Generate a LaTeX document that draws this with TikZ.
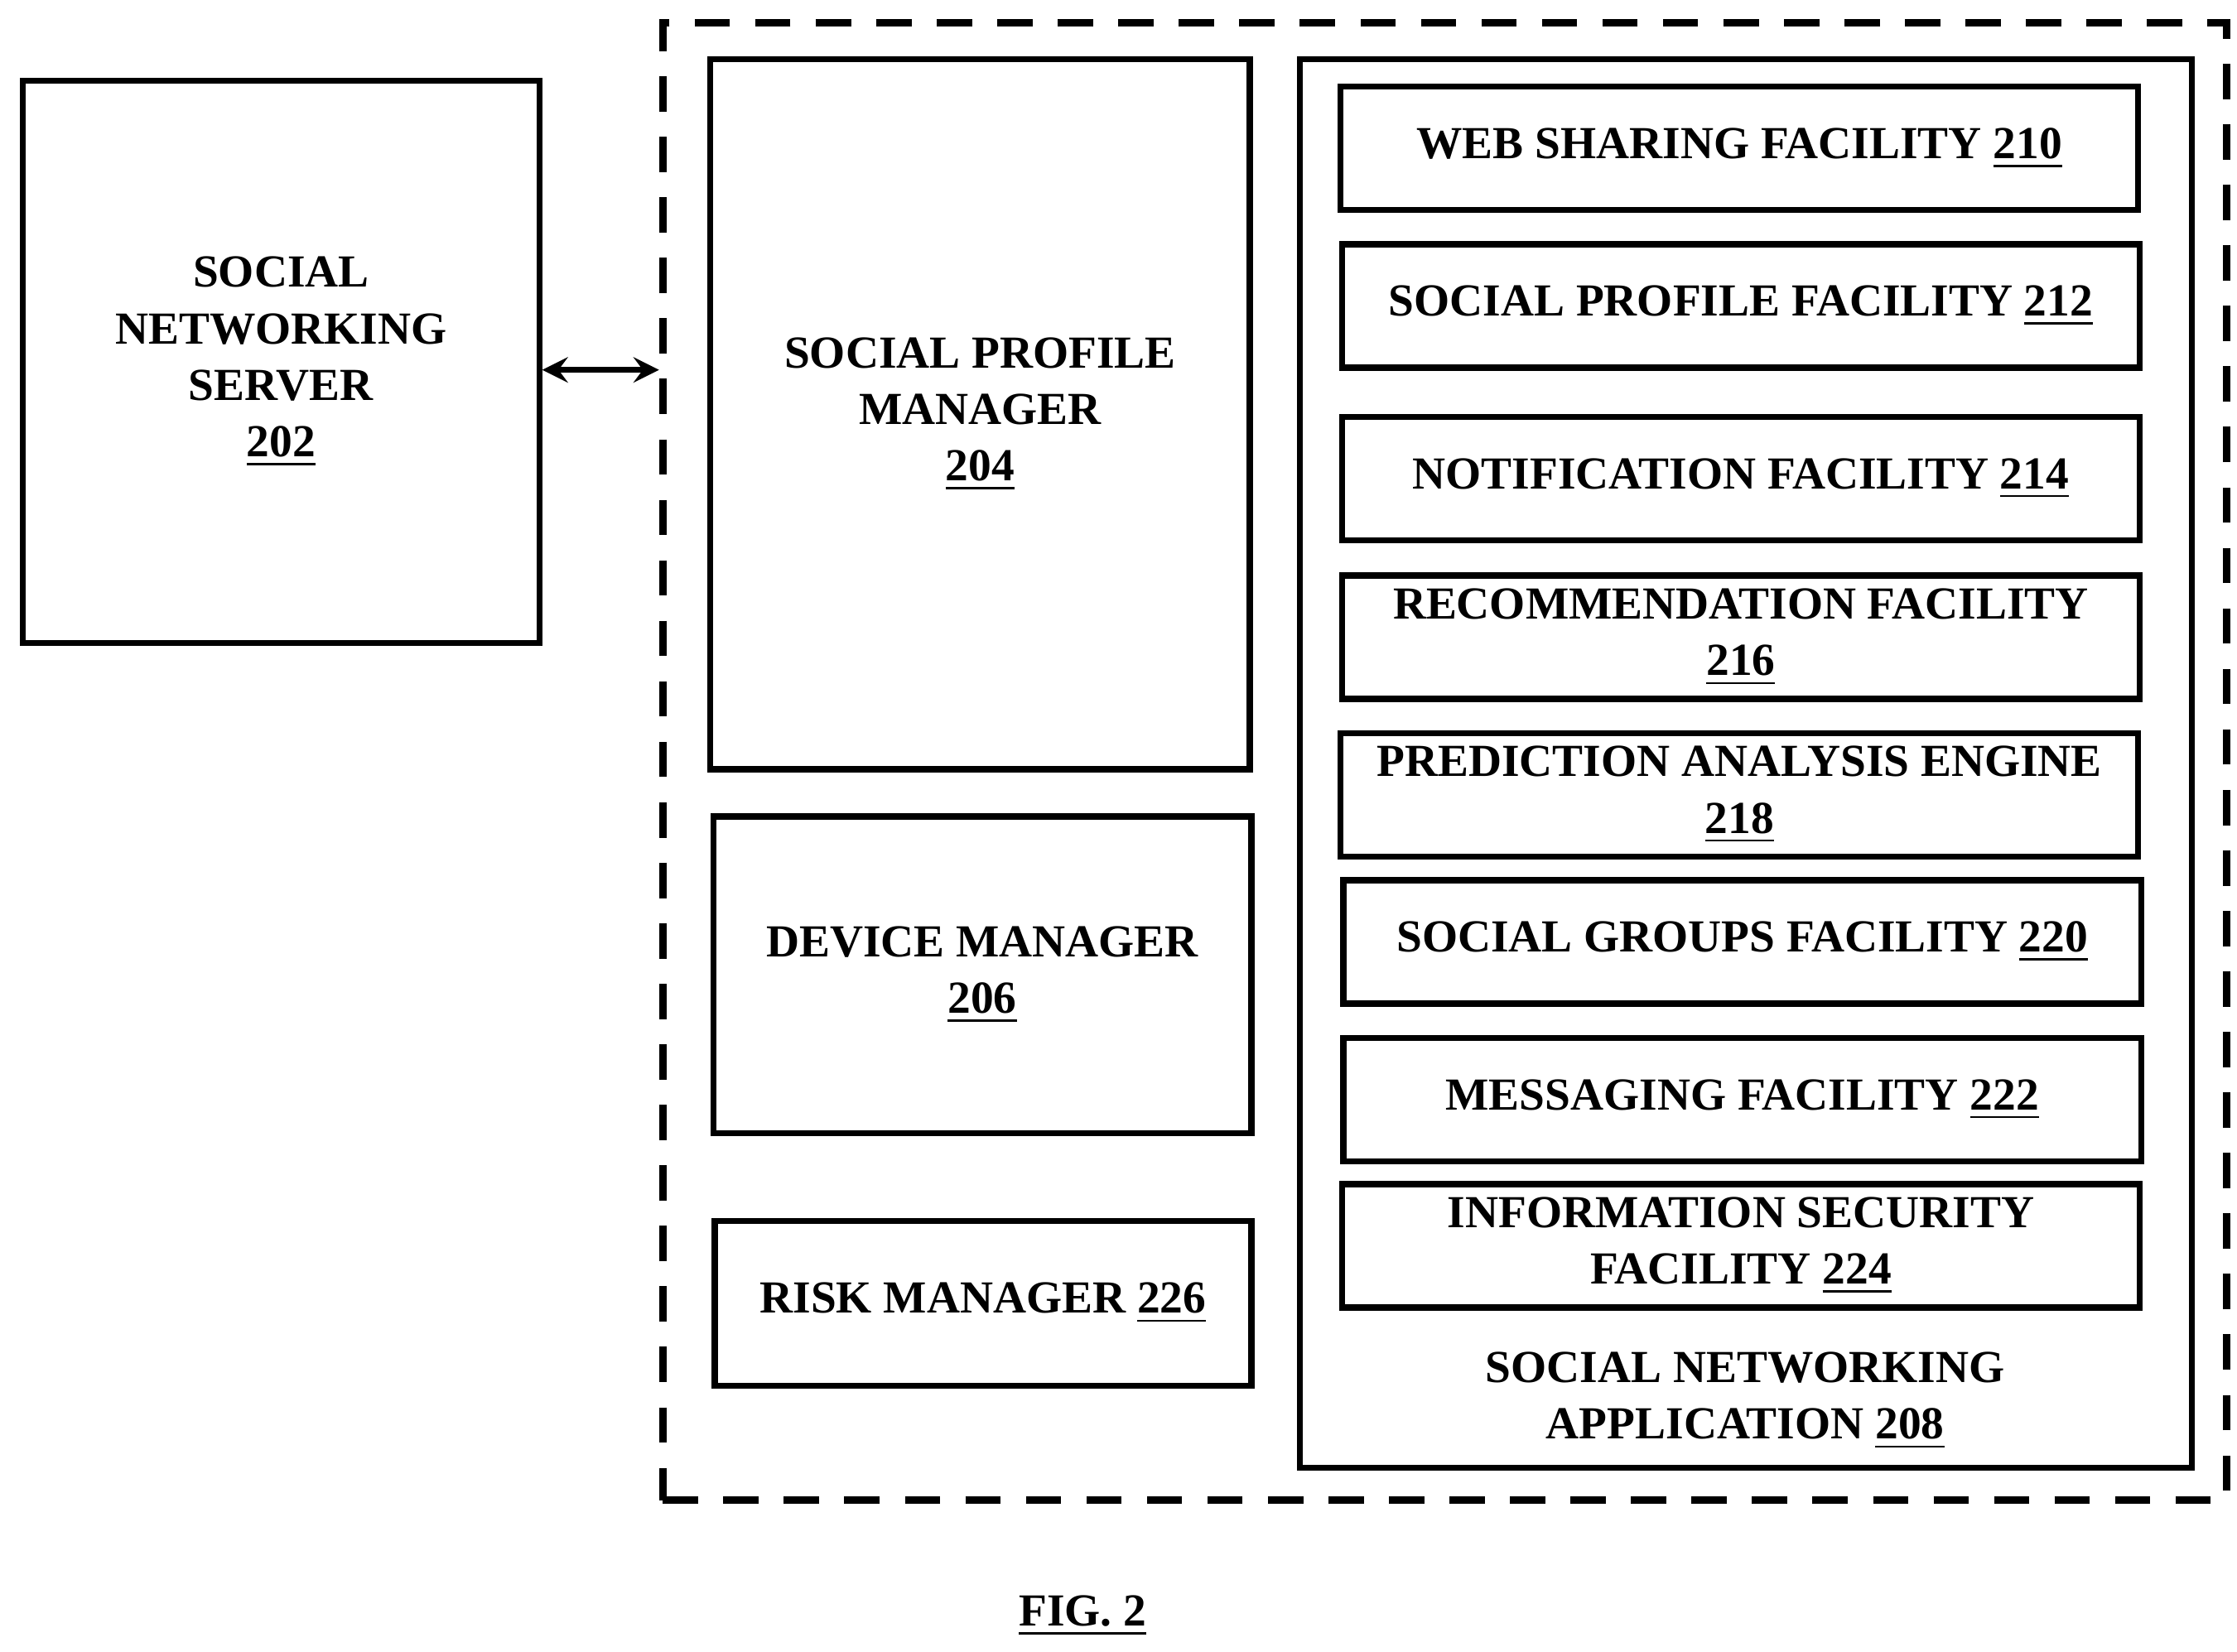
\documentclass[tikz,border=0pt]{standalone}
\usepackage{fontspec}
\setmainfont{Liberation Serif}
\usetikzlibrary{positioning}
\newcommand{\num}[1]{\underline{#1}}
\tikzset{
  blk/.style={draw,line width=1.2pt,align=center,font=\bfseries\fontsize{9.1}{11.2}\selectfont,inner sep=0pt},
  fac/.style={blk,minimum width=5.56cm,minimum height=0.86cm},
}
\begin{document}
\begin{tikzpicture}[x=0.01cm,y=-0.01cm]
\useasboundingbox (0,0) rectangle (1560,1152);

% outer dashed system
\node[draw,line width=1.5pt,minimum width=10.9cm,minimum height=10.3cm,dash pattern=on 7pt off 5pt] (sys) at (1007.5,531) {};
\node[blk,minimum width=3.6cm,minimum height=3.92cm] (srv) at (196,252.5) {SOCIAL\\NETWORKING\\SERVER\\\num{202}};
\draw[line width=1.2pt,<->,>=stealth] (srv.east |- 0,258) -- (sys.west |- 0,258);

% left column
\node[blk,minimum width=3.76cm,minimum height=4.95cm] (spm) at (683.5,289) {SOCIAL PROFILE\\MANAGER\\\num{204}};
\node[blk,minimum width=3.75cm,minimum height=2.21cm] (dev) at (685,680) {DEVICE MANAGER\\\num{206}};
\node[blk,minimum width=3.74cm,minimum height=1.15cm] (risk) at (685.5,909) {RISK MANAGER \num{226}};

% application
\node[draw,line width=1.2pt,minimum width=6.22cm,minimum height=9.82cm] (app) at (1217.5,532.5) {};
\node[blk,draw=none] (apptxt) at (1217,977) {SOCIAL NETWORKING\\APPLICATION \num{208}};

\node[fac] (f210) at (1213,103.5) {WEB SHARING FACILITY \num{210}};
\node[fac] (f212) at (1214,213.5) {SOCIAL PROFILE FACILITY \num{212}};
\node[fac] (f214) at (1214,334) {NOTIFICATION FACILITY \num{214}};
\node[fac] (f216) at (1214,444.5) {RECOMMENDATION FACILITY\\\num{216}};
\node[fac] (f218) at (1213,554.5) {PREDICTION ANALYSIS ENGINE\\\num{218}};
\node[fac] (f220) at (1215,657) {SOCIAL GROUPS FACILITY \num{220}};
\node[fac] (f222) at (1215,767) {MESSAGING FACILITY \num{222}};
\node[fac] (f224) at (1214,869) {INFORMATION SECURITY\\FACILITY \num{224}};

\node[blk,draw=none] (fig) at (755,1127) {\num{FIG. 2}};
\end{tikzpicture}
\end{document}
